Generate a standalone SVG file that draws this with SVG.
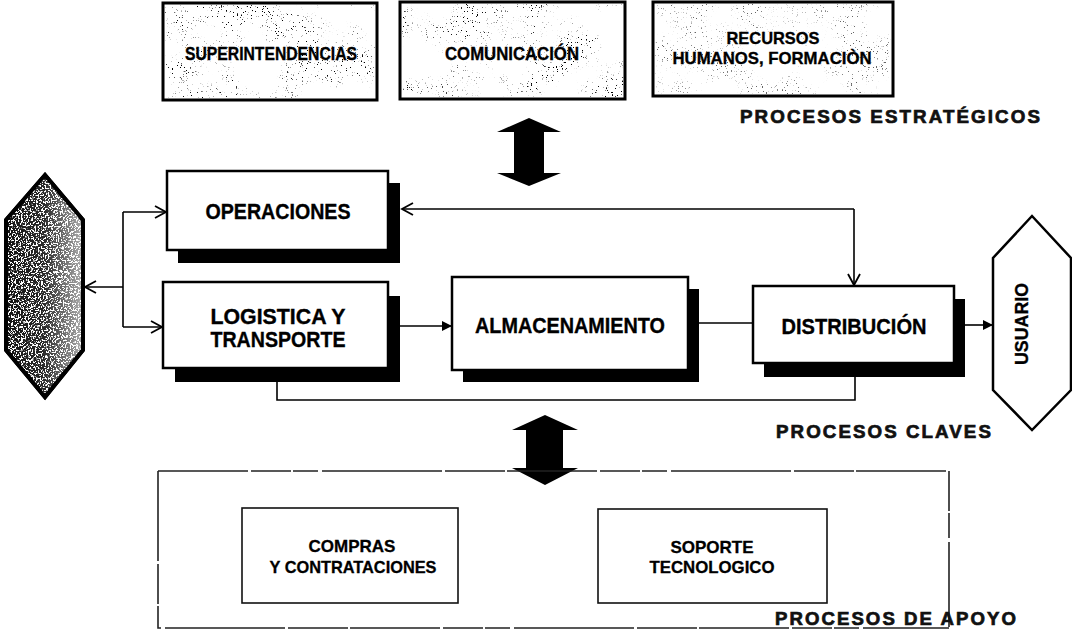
<svg xmlns="http://www.w3.org/2000/svg" width="1072" height="642" viewBox="0 0 1072 642">
<style>
.bx{fill:#fff;stroke:#000;stroke-width:2.5}
.sh{fill:#000}
.top{fill:#fff;stroke:#000;stroke-width:3}
.t{font-family:"Liberation Sans",Arial,sans-serif;font-weight:bold;fill:#000;text-anchor:middle;stroke:#000;stroke-width:0.35}
.big{font-size:22px}
.mid{font-size:17px;stroke-width:0.3}
.lbl{font-family:"Liberation Sans",Arial,sans-serif;font-weight:bold;font-size:18px;letter-spacing:2px;fill:#111;stroke:#111;stroke-width:0.7}
.ln{fill:none;stroke:#000;stroke-width:1.6}
.thin{fill:#fff;stroke:#111;stroke-width:1.6}
.dash{fill:none;stroke:#222;stroke-width:1.6;stroke-dasharray:90 3 40 2 25 4 120 3 60 2}
</style>
<defs>
<filter id="spk" x="0" y="0" width="1" height="1">
<feTurbulence type="fractalNoise" baseFrequency="0.8" numOctaves="2" seed="4" result="f"/>
<feColorMatrix in="f" type="matrix" values="0 0 0 0 0  0 0 0 0 0  0 0 0 0 0  18 0 0 0 -12.2" result="fa"/>
<feTurbulence type="fractalNoise" baseFrequency="0.025" numOctaves="2" seed="11" result="c"/>
<feColorMatrix in="c" type="matrix" values="0 0 0 0 0  0 0 0 0 0  0 0 0 0 0  5 0 0 0 -2.1" result="ca"/>
<feComposite in="fa" in2="ca" operator="in" result="m"/>
<feComposite in="m" in2="SourceAlpha" operator="in"/>
</filter>
<filter id="spkd" x="0" y="0" width="1" height="1">
<feTurbulence type="fractalNoise" baseFrequency="0.6" numOctaves="2" seed="9"/>
<feColorMatrix type="matrix" values="0 0 0 0 1  0 0 0 0 1  0 0 0 0 1  14 0 0 0 -7.2"/>
<feComposite operator="in" in2="SourceAlpha"/>
</filter>
<linearGradient id="hg" x1="0" y1="0" x2="1" y2="0">
<stop offset="0" stop-color="#111"/>
<stop offset="0.5" stop-color="#2a2a2a"/>
<stop offset="1" stop-color="#b0b0b0"/>
</linearGradient>
<marker id="open" markerUnits="userSpaceOnUse" markerWidth="16" markerHeight="16" refX="12" refY="7" orient="auto">
<path d="M1,1 L12,7 L1,13" fill="none" stroke="#000" stroke-width="1.8"/>
</marker>
<marker id="fill" markerUnits="userSpaceOnUse" markerWidth="12" markerHeight="12" refX="10" refY="5" orient="auto">
<path d="M0,0 L10,5 L0,10 Z" fill="#000"/>
</marker>
</defs>
<rect width="1072" height="642" fill="#fff"/>

<g id="superintendencias">
<rect class="top" x="163" y="3" width="214" height="97"/>
<rect x="165" y="5" width="210" height="93" fill="#fff" filter="url(#spk)"/>
<text class="t" x="271" y="60" font-size="18" textLength="172" lengthAdjust="spacingAndGlyphs">SUPERINTENDENCIAS</text>
</g>
<g id="comunicacion">
<rect class="top" x="400" y="2" width="225" height="97"/>
<rect x="402" y="4" width="221" height="93" fill="#fff" filter="url(#spk)"/>
<text class="t" x="512" y="60" font-size="18" textLength="134" lengthAdjust="spacingAndGlyphs">COMUNICACIÓN</text>
</g>
<g id="recursos">
<rect class="top" x="653" y="2" width="240" height="94"/>
<rect x="655" y="4" width="236" height="90" fill="#fff" filter="url(#spk)" opacity="0.6"/>
<text class="t" x="773" y="44" font-size="17" textLength="93" lengthAdjust="spacingAndGlyphs">RECURSOS</text>
<text class="t" x="772" y="64" font-size="17" textLength="199" lengthAdjust="spacingAndGlyphs">HUMANOS, FORMACIÒN</text>
</g>
<text class="lbl" x="740" y="123" textLength="302" lengthAdjust="spacingAndGlyphs">PROCESOS ESTRATÉGICOS</text>

<g id="arrow-top">
<polygon points="529,118 561,132 544,132 544,173 561,173 529,186 497,173 514,173 514,132 497,132" fill="#000"/>
</g>

<g id="proveedor">
<polygon points="45,175 83,220 83,350 45,397 6,350 6,220" fill="url(#hg)" stroke="#000" stroke-width="4"/>
<polygon points="45,175 83,220 83,350 45,397 6,350 6,220" fill="#000" filter="url(#spkd)"/>
<polygon points="45,175 83,220 83,350 45,397 6,350 6,220" fill="none" stroke="#000" stroke-width="4"/>
</g>

<g id="operaciones">
<rect class="sh" x="178" y="183" width="222" height="80"/>
<rect class="bx" x="167" y="171" width="221" height="79"/>
<text class="t big" x="278" y="219" textLength="145" lengthAdjust="spacingAndGlyphs">OPERACIONES</text>
</g>
<g id="logistica">
<rect class="sh" x="175" y="296" width="225" height="86"/>
<rect class="bx" x="163" y="282" width="225" height="86"/>
<text class="t big" x="278" y="324" textLength="135" lengthAdjust="spacingAndGlyphs">LOGISTICA Y</text>
<text class="t big" x="278" y="347" textLength="135" lengthAdjust="spacingAndGlyphs">TRANSPORTE</text>
</g>
<g id="almacenamiento">
<rect class="sh" x="463" y="289" width="236" height="93"/>
<rect class="bx" x="452" y="277" width="236" height="93"/>
<text class="t big" x="570" y="333" textLength="190" lengthAdjust="spacingAndGlyphs">ALMACENAMIENTO</text>
</g>
<g id="distribucion">
<rect class="sh" x="764" y="299" width="201" height="78"/>
<rect class="bx" x="753" y="286" width="201" height="77"/>
<text class="t big" x="854" y="334" textLength="145" lengthAdjust="spacingAndGlyphs">DISTRIBUCIÓN</text>
</g>
<g id="usuario">
<polygon points="1032,216 1071,258 1071,390 1032,430 993,390 993,258" fill="#fff" stroke="#000" stroke-width="2.5"/>
<text class="t" font-size="19" transform="translate(1028,324) rotate(-90)" textLength="82" lengthAdjust="spacingAndGlyphs">USUARIO</text>
</g>
<text class="lbl" x="776" y="438" textLength="217" lengthAdjust="spacingAndGlyphs">PROCESOS CLAVES</text>

<g id="connectors">
<path class="ln" d="M123,287 H85" marker-end="url(#open)"/>
<path class="ln" d="M123,212 V327"/>
<path class="ln" d="M123,212 H166" marker-end="url(#open)"/>
<path class="ln" d="M123,327 H162" marker-end="url(#open)"/>
<path class="ln" d="M854,209 H402" marker-end="url(#open)"/>
<path class="ln" d="M854,209 V285" marker-end="url(#open)"/>
<path class="ln" d="M400,326 H452" marker-end="url(#fill)"/>
<path class="ln" d="M699,323 H753"/>
<path class="ln" d="M965,325 H993" marker-end="url(#fill)"/>
<path class="ln" d="M277,382 V400 H855 V377"/>
</g>

<g id="arrow-bottom">
<polygon points="545,415 578,430 563,430 563,468 578,468 545,485 512,468 526,468 526,430 512,430" fill="#000"/>
</g>

<g id="apoyo">
<path class="dash" d="M158,471 H949 V627"/>
<path class="dash" d="M158,471 V628 H949"/>
</g>
<g id="compras">
<rect class="thin" x="242" y="508" width="216" height="95"/>
<text class="t mid" x="352" y="552">COMPRAS</text>
<text class="t mid" x="353" y="573" textLength="167" lengthAdjust="spacingAndGlyphs">Y CONTRATACIONES</text>
</g>
<g id="soporte">
<rect class="thin" x="598" y="509" width="229" height="94"/>
<text class="t mid" x="712" y="553">SOPORTE</text>
<text class="t mid" x="712" y="573" textLength="125" lengthAdjust="spacingAndGlyphs">TECNOLOGICO</text>
</g>
<text class="lbl" x="775" y="625" textLength="243" lengthAdjust="spacingAndGlyphs">PROCESOS DE APOYO</text>
</svg>
